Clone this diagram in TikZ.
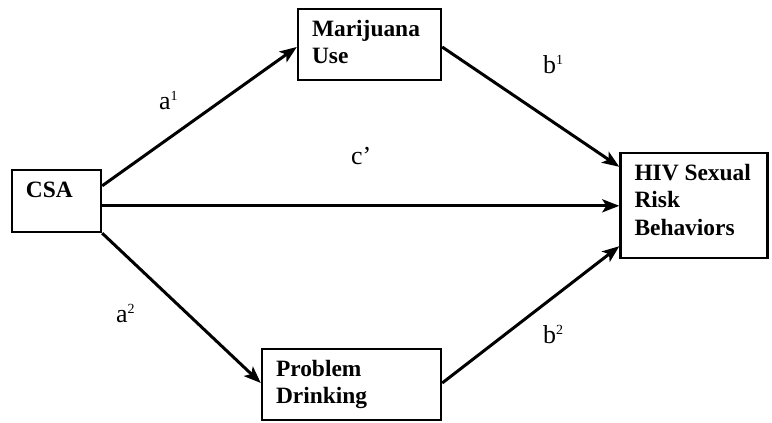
\documentclass[tikz,border=0pt]{standalone}
\usepackage{fontspec}
\setmainfont{Liberation Serif}
\usetikzlibrary{arrows.meta,calc}
\newcommand{\supnum}[1]{\raisebox{8.5bp}{\fontsize{14}{14}\selectfont #1}}
\begin{document}
\begin{tikzpicture}[x=1bp,y=-1bp,
  boxnode/.style={draw=black,line width=2.4bp,inner sep=0pt,fill=white},
  boxtext/.style={anchor=north west,inner sep=0pt,align=left,font=\fontsize{23.5}{27.5}\selectfont\bfseries},
  arr/.style={line width=3bp,-{Stealth[length=17bp,width=13bp,inset=4bp]}},
  lab/.style={anchor=base west,inner sep=0pt,font=\fontsize{26}{26}\selectfont}]
\useasboundingbox (0,0) rectangle (772,422);
% boxes
\node[boxnode,minimum width=89bp,minimum height=62bp] (csa) at (56.5,201) {};
\node[boxnode,minimum width=143bp,minimum height=71bp] (mj) at (369.5,44.5) {};
\node[boxnode,minimum width=147bp,minimum height=105bp] (hiv) at (694,205.5) {};
\node[boxnode,minimum width=179bp,minimum height=71bp] (pd) at (351.5,384.5) {};
% texts
\node[boxtext] (csat) at ($(csa.north west)+(15,13.4)$) {CSA};
\node[boxtext] (mjt) at ($(mj.north west)+(15,12)$) {Marijuana\\Use};
\node[boxtext] (hivt) at ($(hiv.north west)+(15,12)$) {HIV Sexual\\Risk\\Behaviors};
\node[boxtext] (pdt) at ($(pd.north west)+(15,12)$) {Problem\\Drinking};
% arrows
\coordinate (s1) at ($(csa.north east)+(0,17)$);
\coordinate (s2) at ($(csa.north east)+(0,37)$);
\draw[arr] (s1) -- ($(mj.west)+(0,2.5)$);
\draw[arr] (s2) -- (hiv.west |- s2);
\draw[arr] (csa.south east) -- ($(pd.west)+(0,-1.5)$);
\draw[arr] ($(mj.east)+(0,2.5)$) -- ($(hiv.north west)+(0,15)$);
\draw[arr] ($(pd.east)+(0,-1.5)$) -- ($(hiv.south west)+(0,-13)$);
% labels
\node[lab] (la1) at (159,109) {a\supnum{1}};
\node[lab] (lb1) at (543,73) {b\supnum{1}};
\node[lab] (lc) at (351,164) {c’};
\node[lab] (la2) at (116,322) {a\supnum{2}};
\node[lab] (lb2) at (543,343) {b\supnum{2}};
\end{tikzpicture}
\end{document}
